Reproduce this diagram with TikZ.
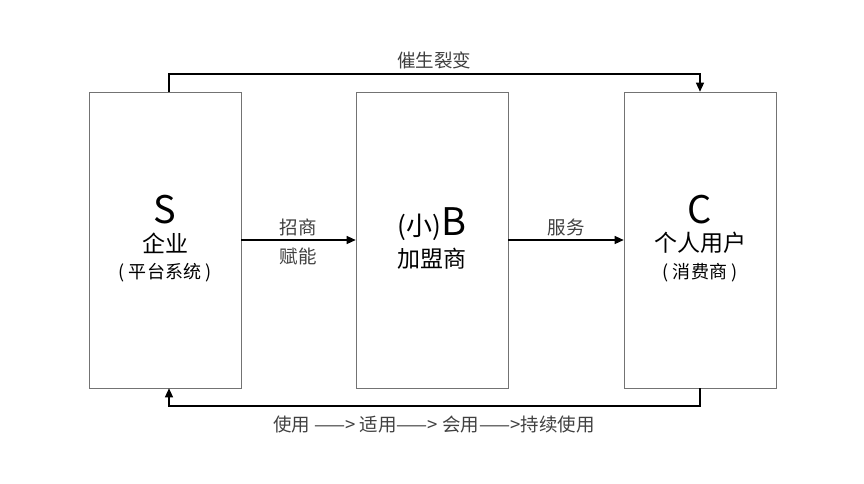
\documentclass[tikz,border=0pt]{standalone}
\usepackage{fontspec}
\setmainfont{Noto Sans CJK SC}
\usetikzlibrary{arrows.meta}
\begin{document}
\begin{tikzpicture}[x=1pt,y=-1pt,
  box/.style={draw=black!55,line width=0.6pt,minimum width=152pt,minimum height=296pt,inner sep=0pt},
  lbl/.style={text=black!75,font=\fontsize{18.5}{20}\selectfont},
  big/.style={font=\fontsize{38}{40}\selectfont},
  mid/.style={font=\fontsize{23}{25}\selectfont},
  sm/.style={font=\fontsize{18}{20}\selectfont},
  conn/.style={line width=1.2pt,-{Triangle[length=9pt,width=8pt]}}]
\useasboundingbox (0,0) rectangle (864,483);
\node[box] (S) at (165,240) {};
\node[box] (B) at (432,240) {};
\node[box] (C) at (700,240) {};
\node[big] (s1) at (165,210) {S};
\node[mid] (s2) at (165,243) {企业};
\node[sm] (s3) at (165,273) {(\ 平台系统\ )};
\node[big] (b1) at (432,224) {\fontsize{26}{28}\selectfont(小)\fontsize{38}{40}\selectfont B};
\node[mid] (b2) at (432,259) {加盟商};
\node[big] (c1) at (700,210) {C};
\node[mid] (c2) at (700,243) {个人用户};
\node[sm] (c3) at (700,273) {(\ 消费商\ )};
\draw[conn] (S.east) -- (B.west);
\draw[conn] (B.east) -- (C.west);
\node[lbl] (l1) at (298,227) {招商};
\node[lbl] (l2) at (298,256) {赋能};
\node[lbl] (l3) at (566,227) {服务};
\coordinate (t1) at (169,74);
\coordinate (t2) at (700,74);
\coordinate (b1c) at (700,406);
\coordinate (b2c) at (169,406);
\draw[conn] (S.north -| t1) -- (t1) -- (t2) -- (C.north -| t2);
\draw[conn] (C.south -| b1c) -- (b1c) -- (b2c) -- (S.south -| b2c);
\node[lbl] (top) at (434,60) {催生裂变};
\node[lbl] (bot) at (434,424) {使用 ——> 适用——> 会用——>持续使用};
\end{tikzpicture}
\end{document}
